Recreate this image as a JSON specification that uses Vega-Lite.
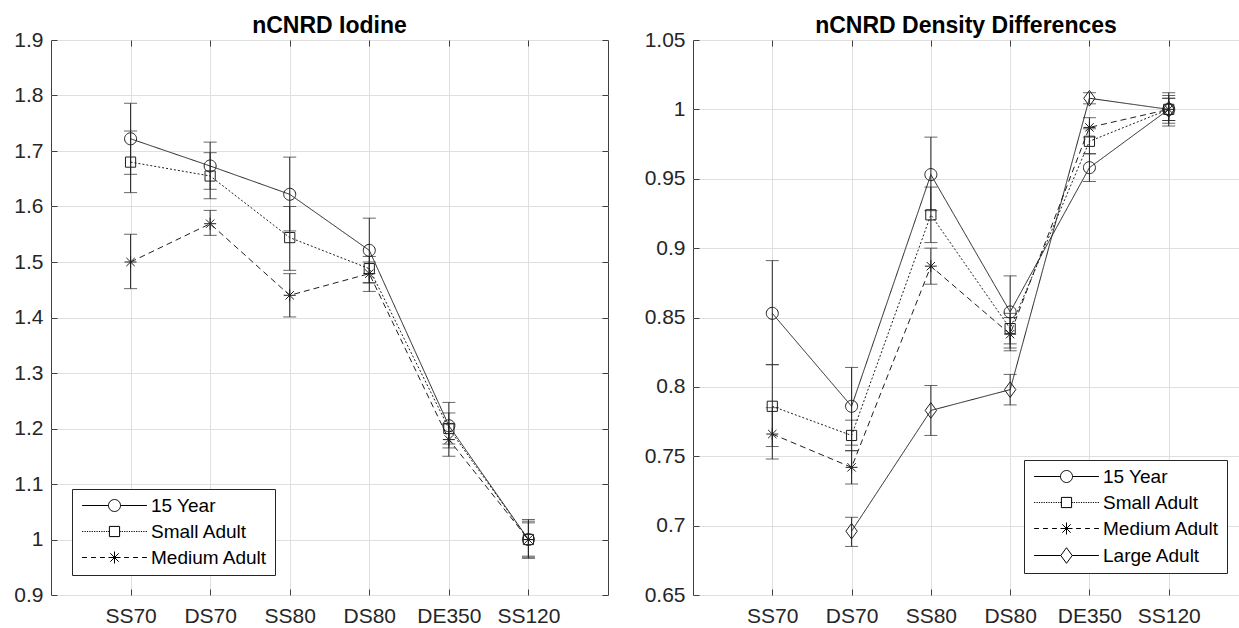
{
  "$schema": "https://vega.github.io/schema/vega-lite/v6.json",
  "background": "white",
  "padding": {"left": 13, "top": 14, "right": 0, "bottom": 0},
  "spacing": 34,
  "config": {
    "font": "Liberation Sans",
    "view": {"stroke": "#404040", "strokeWidth": 1},
    "axis": {"labelFont": "Liberation Sans", "labelFontSize": 21, "labelColor": "#262626", "tickColor": "#404040", "gridColor": "#dfdfdf", "gridWidth": 1, "title": null},
    "title": {"font": "Liberation Sans", "fontSize": 23, "fontWeight": "bold", "color": "black", "offset": -9, "frame": "group", "anchor": "middle"},
    "legend": {"labelFont": "Liberation Sans", "labelFontSize": 19, "labelColor": "black", "padding": 7, "rowPadding": 6, "fillColor": "white", "strokeColor": "#262626", "symbolSize": 144, "symbolStrokeWidth": 1, "symbolStrokeColor": "black", "symbolFillColor": "transparent", "symbolOffset": 26, "labelOffset": 27, "title": null, "cornerRadius": 0}
  },
  "datasets": {
    "iodine": [
      {"series": "15 Year", "setting": "SS70", "value": 1.722, "lo": 1.658, "hi": 1.786},
      {"series": "15 Year", "setting": "DS70", "value": 1.673, "lo": 1.631, "hi": 1.716},
      {"series": "15 Year", "setting": "SS80", "value": 1.622, "lo": 1.556, "hi": 1.689},
      {"series": "15 Year", "setting": "DS80", "value": 1.521, "lo": 1.463, "hi": 1.579},
      {"series": "15 Year", "setting": "DE350", "value": 1.205, "lo": 1.165, "hi": 1.247},
      {"series": "15 Year", "setting": "SS120", "value": 1.0, "lo": 0.966, "hi": 1.036},
      {"series": "Small Adult", "setting": "SS70", "value": 1.68, "lo": 1.625, "hi": 1.736},
      {"series": "Small Adult", "setting": "DS70", "value": 1.655, "lo": 1.614, "hi": 1.697},
      {"series": "Small Adult", "setting": "SS80", "value": 1.544, "lo": 1.485, "hi": 1.6},
      {"series": "Small Adult", "setting": "DS80", "value": 1.488, "lo": 1.462, "hi": 1.51},
      {"series": "Small Adult", "setting": "DE350", "value": 1.2, "lo": 1.172, "hi": 1.228},
      {"series": "Small Adult", "setting": "SS120", "value": 1.0, "lo": 0.97, "hi": 1.03},
      {"series": "Medium Adult", "setting": "SS70", "value": 1.5, "lo": 1.452, "hi": 1.55},
      {"series": "Medium Adult", "setting": "DS70", "value": 1.569, "lo": 1.548, "hi": 1.593},
      {"series": "Medium Adult", "setting": "SS80", "value": 1.44, "lo": 1.401, "hi": 1.479},
      {"series": "Medium Adult", "setting": "DS80", "value": 1.479, "lo": 1.447, "hi": 1.5},
      {"series": "Medium Adult", "setting": "DE350", "value": 1.18, "lo": 1.15, "hi": 1.208},
      {"series": "Medium Adult", "setting": "SS120", "value": 1.0, "lo": 0.968, "hi": 1.033}
    ],
    "density": [
      {"series": "15 Year", "setting": "SS70", "value": 0.853, "lo": 0.816, "hi": 0.891},
      {"series": "15 Year", "setting": "DS70", "value": 0.786, "lo": 0.758, "hi": 0.814},
      {"series": "15 Year", "setting": "SS80", "value": 0.953, "lo": 0.927, "hi": 0.98},
      {"series": "15 Year", "setting": "DS80", "value": 0.854, "lo": 0.828, "hi": 0.88},
      {"series": "15 Year", "setting": "DE350", "value": 0.958, "lo": 0.948, "hi": 0.968},
      {"series": "15 Year", "setting": "SS120", "value": 1.0, "lo": 0.988, "hi": 1.012},
      {"series": "Small Adult", "setting": "SS70", "value": 0.786, "lo": 0.757, "hi": 0.816},
      {"series": "Small Adult", "setting": "DS70", "value": 0.765, "lo": 0.754, "hi": 0.776},
      {"series": "Small Adult", "setting": "SS80", "value": 0.924, "lo": 0.904, "hi": 0.944},
      {"series": "Small Adult", "setting": "DS80", "value": 0.842, "lo": 0.831, "hi": 0.853},
      {"series": "Small Adult", "setting": "DE350", "value": 0.977, "lo": 0.968, "hi": 0.986},
      {"series": "Small Adult", "setting": "SS120", "value": 1.0, "lo": 0.992, "hi": 1.008},
      {"series": "Medium Adult", "setting": "SS70", "value": 0.766, "lo": 0.748, "hi": 0.785},
      {"series": "Medium Adult", "setting": "DS70", "value": 0.742, "lo": 0.73, "hi": 0.754},
      {"series": "Medium Adult", "setting": "SS80", "value": 0.887, "lo": 0.874, "hi": 0.9},
      {"series": "Medium Adult", "setting": "DS80", "value": 0.838, "lo": 0.826, "hi": 0.85},
      {"series": "Medium Adult", "setting": "DE350", "value": 0.987, "lo": 0.98, "hi": 0.994},
      {"series": "Medium Adult", "setting": "SS120", "value": 1.0, "lo": 0.99, "hi": 1.01},
      {"series": "Large Adult", "setting": "DS70", "value": 0.696, "lo": 0.685, "hi": 0.706},
      {"series": "Large Adult", "setting": "SS80", "value": 0.783, "lo": 0.765, "hi": 0.801},
      {"series": "Large Adult", "setting": "DS80", "value": 0.798, "lo": 0.787, "hi": 0.809},
      {"series": "Large Adult", "setting": "DE350", "value": 1.008, "lo": 1.004, "hi": 1.012},
      {"series": "Large Adult", "setting": "SS120", "value": 1.0, "lo": 0.992, "hi": 1.008}
    ]
  },
  "hconcat": [
    {
      "title": "nCNRD Iodine",
      "width": 557,
      "height": 555,
      "data": {"name": "iodine"},
      "layer": [
        {
          "mark": {"type": "rule", "color": "#262626", "strokeWidth": 1},
          "encoding": {
            "x": {"field": "setting", "type": "nominal", "scale": {"type": "point", "padding": 1, "domain": ["SS70", "DS70", "SS80", "DS80", "DE350", "SS120"]}, "axis": {"orient": "bottom", "grid": true, "domain": false, "tickSize": -6, "labelPadding": 16, "labelAngle": 0}},
            "y": {"field": "lo", "type": "quantitative", "scale": {"domain": [0.9, 1.9], "nice": false, "zero": false}, "axis": {"orient": "left", "grid": true, "domain": false, "tickSize": -6, "labelPadding": 14, "values": [0.9, 1, 1.1, 1.2, 1.3, 1.4, 1.5, 1.6, 1.7, 1.8, 1.9], "format": ".3~g"}},
            "y2": {"field": "hi"}
          }
        },
        {
          "mark": {"type": "tick", "color": "#262626", "size": 13, "thickness": 1},
          "encoding": {
            "x": {"field": "setting", "type": "nominal", "scale": {"type": "point", "padding": 1, "domain": ["SS70", "DS70", "SS80", "DS80", "DE350", "SS120"]}, "axis": null},
            "y": {"field": "lo", "type": "quantitative", "scale": {"domain": [0.9, 1.9], "nice": false, "zero": false}, "axis": null}
          }
        },
        {
          "mark": {"type": "tick", "color": "#262626", "size": 13, "thickness": 1},
          "encoding": {
            "x": {"field": "setting", "type": "nominal", "scale": {"type": "point", "padding": 1, "domain": ["SS70", "DS70", "SS80", "DS80", "DE350", "SS120"]}, "axis": null},
            "y": {"field": "hi", "type": "quantitative", "scale": {"domain": [0.9, 1.9], "nice": false, "zero": false}, "axis": null}
          }
        },
        {
          "mark": {"type": "line", "color": "#1f1f1f", "strokeWidth": 1},
          "encoding": {
            "x": {"field": "setting", "type": "nominal", "scale": {"type": "point", "padding": 1, "domain": ["SS70", "DS70", "SS80", "DS80", "DE350", "SS120"]}, "axis": null},
            "y": {"field": "value", "type": "quantitative", "scale": {"domain": [0.9, 1.9], "nice": false, "zero": false}, "axis": null},
            "strokeDash": {"field": "series", "type": "nominal", "scale": {"domain": ["15 Year", "Small Adult", "Medium Adult"], "range": [[1, 0], [2, 2], [6, 4]]}, "legend": null},
            "order": {"value": null}
          }
        },
        {
          "mark": {"type": "point", "filled": false, "color": "#1f1f1f", "strokeWidth": 1, "size": 144, "opacity": 1},
          "encoding": {
            "x": {"field": "setting", "type": "nominal", "scale": {"type": "point", "padding": 1, "domain": ["SS70", "DS70", "SS80", "DS80", "DE350", "SS120"]}, "axis": null},
            "y": {"field": "value", "type": "quantitative", "scale": {"domain": [0.9, 1.9], "nice": false, "zero": false}, "axis": null},
            "shape": {"field": "series", "type": "nominal", "scale": {"domain": ["15 Year", "Small Adult", "Medium Adult"], "range": ["M1,0A1,1,0,1,1,-1,0A1,1,0,1,1,1,0Z", "M-0.85,-0.85L0.85,-0.85L0.85,0.85L-0.85,0.85Z", "M0,-1L0,1M-1,0L1,0M-0.7,-0.7L0.7,0.7M-0.7,0.7L0.7,-0.7"]}, "legend": null}
          }
        },
        {
          "transform": [{"filter": "false"}],
          "mark": {"type": "point", "filled": false, "color": "black", "strokeWidth": 1, "opacity": 1},
          "encoding": {
            "x": {"field": "setting", "type": "nominal", "scale": {"type": "point", "padding": 1, "domain": ["SS70", "DS70", "SS80", "DS80", "DE350", "SS120"]}, "axis": {"orient": "top", "grid": false, "domain": false, "labels": false, "tickSize": -6}},
            "y": {"field": "value", "type": "quantitative", "scale": {"domain": [0.9, 1.9], "nice": false, "zero": false}, "axis": {"orient": "right", "grid": false, "domain": false, "labels": false, "tickSize": -6, "values": [0.9, 1, 1.1, 1.2, 1.3, 1.4, 1.5, 1.6, 1.7, 1.8, 1.9]}},
            "shape": {"field": "series", "type": "nominal", "scale": {"domain": ["15 Year", "Small Adult", "Medium Adult"], "range": ["M-5.4,0L-1,0M1,0L5.4,0M1,0A1,1,0,1,1,-1,0A1,1,0,1,1,1,0Z", "M-5.4,0L-5.2,0M-5,0L-4.8,0M-4.6,0L-4.4,0M-4.2,0L-4,0M-3.8,0L-3.6,0M-3.4,0L-3.2,0M-3,0L-2.8,0M-2.6,0L-2.4,0M-2.2,0L-2,0M-1.8,0L-1.6,0M-1.4,0L-1.2,0M-1.05,0L-0.85,0M0.85,0L1.05,0M1.2,0L1.4,0M1.6,0L1.8,0M2,0L2.2,0M2.4,0L2.6,0M2.8,0L3,0M3.2,0L3.4,0M3.6,0L3.8,0M4,0L4.2,0M4.4,0L4.6,0M4.8,0L5,0M5.2,0L5.4,0M-0.85,-0.85L0.85,-0.85L0.85,0.85L-0.85,0.85Z", "M-5.4,0L-4.6,0M-3.9,0L-3.1,0M-2.4,0L-1.6,0M1.6,0L2.4,0M3.1,0L3.9,0M4.6,0L5.4,0M0,-1L0,1M-1,0L1,0M-0.7,-0.7L0.7,0.7M-0.7,0.7L0.7,-0.7"]}, "legend": {"orient": "none", "legendX": 21, "legendY": 449}}
          }
        }
      ],
      "resolve": {"scale": {"shape": "independent"}, "axis": {"x": "independent", "y": "independent"}}
    },
    {
      "title": "nCNRD Density Differences",
      "width": 546,
      "height": 555,
      "data": {"name": "density"},
      "layer": [
        {
          "mark": {"type": "rule", "color": "#262626", "strokeWidth": 1},
          "encoding": {
            "x": {"field": "setting", "type": "nominal", "scale": {"type": "point", "padding": 1, "range": [0, 555], "domain": ["SS70", "DS70", "SS80", "DS80", "DE350", "SS120"]}, "axis": {"orient": "bottom", "grid": true, "domain": false, "tickSize": -6, "labelPadding": 16, "labelAngle": 0}},
            "y": {"field": "lo", "type": "quantitative", "scale": {"domain": [0.65, 1.05], "nice": false, "zero": false}, "axis": {"orient": "left", "grid": true, "domain": false, "tickSize": -6, "labelPadding": 14, "values": [0.65, 0.7, 0.75, 0.8, 0.85, 0.9, 0.95, 1, 1.05], "format": ".3~g"}},
            "y2": {"field": "hi"}
          }
        },
        {
          "mark": {"type": "tick", "color": "#262626", "size": 13, "thickness": 1},
          "encoding": {
            "x": {"field": "setting", "type": "nominal", "scale": {"type": "point", "padding": 1, "range": [0, 555], "domain": ["SS70", "DS70", "SS80", "DS80", "DE350", "SS120"]}, "axis": null},
            "y": {"field": "lo", "type": "quantitative", "scale": {"domain": [0.65, 1.05], "nice": false, "zero": false}, "axis": null}
          }
        },
        {
          "mark": {"type": "tick", "color": "#262626", "size": 13, "thickness": 1},
          "encoding": {
            "x": {"field": "setting", "type": "nominal", "scale": {"type": "point", "padding": 1, "range": [0, 555], "domain": ["SS70", "DS70", "SS80", "DS80", "DE350", "SS120"]}, "axis": null},
            "y": {"field": "hi", "type": "quantitative", "scale": {"domain": [0.65, 1.05], "nice": false, "zero": false}, "axis": null}
          }
        },
        {
          "mark": {"type": "line", "color": "#1f1f1f", "strokeWidth": 1},
          "encoding": {
            "x": {"field": "setting", "type": "nominal", "scale": {"type": "point", "padding": 1, "range": [0, 555], "domain": ["SS70", "DS70", "SS80", "DS80", "DE350", "SS120"]}, "axis": null},
            "y": {"field": "value", "type": "quantitative", "scale": {"domain": [0.65, 1.05], "nice": false, "zero": false}, "axis": null},
            "strokeDash": {"field": "series", "type": "nominal", "scale": {"domain": ["15 Year", "Small Adult", "Medium Adult", "Large Adult"], "range": [[1, 0], [2, 2], [6, 4], [1, 0]]}, "legend": null},
            "order": {"value": null}
          }
        },
        {
          "mark": {"type": "point", "filled": false, "color": "#1f1f1f", "strokeWidth": 1, "size": 144, "opacity": 1},
          "encoding": {
            "x": {"field": "setting", "type": "nominal", "scale": {"type": "point", "padding": 1, "range": [0, 555], "domain": ["SS70", "DS70", "SS80", "DS80", "DE350", "SS120"]}, "axis": null},
            "y": {"field": "value", "type": "quantitative", "scale": {"domain": [0.65, 1.05], "nice": false, "zero": false}, "axis": null},
            "shape": {"field": "series", "type": "nominal", "scale": {"domain": ["15 Year", "Small Adult", "Medium Adult", "Large Adult"], "range": ["M1,0A1,1,0,1,1,-1,0A1,1,0,1,1,1,0Z", "M-0.85,-0.85L0.85,-0.85L0.85,0.85L-0.85,0.85Z", "M0,-1L0,1M-1,0L1,0M-0.7,-0.7L0.7,0.7M-0.7,0.7L0.7,-0.7", "M0,-1.3L0.95,0L0,1.3L-0.95,0Z"]}, "legend": null}
          }
        },
        {
          "transform": [{"filter": "false"}],
          "mark": {"type": "point", "filled": false, "color": "black", "strokeWidth": 1, "opacity": 1},
          "encoding": {
            "x": {"field": "setting", "type": "nominal", "scale": {"type": "point", "padding": 1, "range": [0, 555], "domain": ["SS70", "DS70", "SS80", "DS80", "DE350", "SS120"]}, "axis": {"orient": "top", "grid": false, "domain": false, "labels": false, "tickSize": -6}},
            "y": {"field": "value", "type": "quantitative", "scale": {"domain": [0.65, 1.05], "nice": false, "zero": false}, "axis": null},
            "shape": {"field": "series", "type": "nominal", "scale": {"domain": ["15 Year", "Small Adult", "Medium Adult", "Large Adult"], "range": ["M-5.4,0L-1,0M1,0L5.4,0M1,0A1,1,0,1,1,-1,0A1,1,0,1,1,1,0Z", "M-5.4,0L-5.2,0M-5,0L-4.8,0M-4.6,0L-4.4,0M-4.2,0L-4,0M-3.8,0L-3.6,0M-3.4,0L-3.2,0M-3,0L-2.8,0M-2.6,0L-2.4,0M-2.2,0L-2,0M-1.8,0L-1.6,0M-1.4,0L-1.2,0M-1.05,0L-0.85,0M0.85,0L1.05,0M1.2,0L1.4,0M1.6,0L1.8,0M2,0L2.2,0M2.4,0L2.6,0M2.8,0L3,0M3.2,0L3.4,0M3.6,0L3.8,0M4,0L4.2,0M4.4,0L4.6,0M4.8,0L5,0M5.2,0L5.4,0M-0.85,-0.85L0.85,-0.85L0.85,0.85L-0.85,0.85Z", "M-5.4,0L-4.6,0M-3.9,0L-3.1,0M-2.4,0L-1.6,0M1.6,0L2.4,0M3.1,0L3.9,0M4.6,0L5.4,0M0,-1L0,1M-1,0L1,0M-0.7,-0.7L0.7,0.7M-0.7,0.7L0.7,-0.7", "M-5.4,0L-0.95,0M0.95,0L5.4,0M0,-1.3L0.95,0L0,1.3L-0.95,0Z"]}, "legend": {"orient": "none", "legendX": 331, "legendY": 420}}
          }
        }
      ],
      "resolve": {"scale": {"shape": "independent"}, "axis": {"x": "independent", "y": "independent"}}
    }
  ]
}
